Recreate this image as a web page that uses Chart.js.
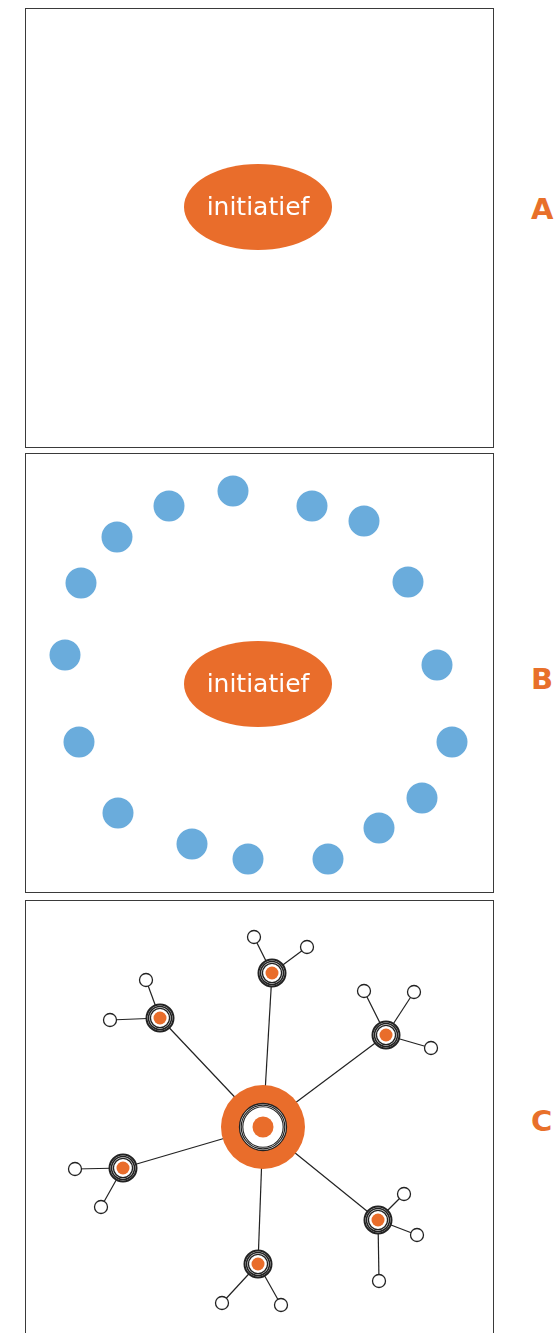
<!DOCTYPE html>
<html>
<head>
<meta charset="utf-8">
<script src="https://cdn.jsdelivr.net/npm/chart.js@4"></script>
<style>
  body { margin: 0; background: #fff; width: 555px; height: 1333px; overflow: hidden; position: relative; font-family: "DejaVu Sans", sans-serif; }
  .panel { position: absolute; left: 25px; width: 467px; height: 438px; border: 1px solid #3a3a3a; }
  .panel canvas { display: block; }
  .letter { position: absolute; left: 531px; color: #e8702a; font-weight: bold; font-size: 29px; line-height: 29px; }
</style>
</head>
<body>
<div class="panel" style="top:8px"><canvas id="chartA"></canvas></div>
<div class="panel" style="top:453px"><canvas id="chartB"></canvas></div>
<div class="panel" style="top:900px"><canvas id="chartC"></canvas></div>
<div class="letter" style="top:195px">A</div>
<div class="letter" style="top:665px">B</div>
<div class="letter" style="top:1107px">C</div>

<script>
// panel coordinates, 1 unit = 1 px inside each box
var panelLabels = ["A", "B", "C"];
var initiativeLabel = "initiatief";
var initiativeX = 233;
var initiativeY = [199, 231];

// B: the people around the initiative
var peopleX = [208, 144, 287, 339, 92, 56, 383, 40, 412, 54, 427, 93, 397, 354, 167, 223, 303];
var peopleY = [38, 53, 53, 68, 84, 130, 129, 202, 212, 289, 289, 360, 345, 375, 391, 406, 406];

// C: network
var hubX = 238, hubY = 227;
var satX = [247, 135, 361, 98, 353, 233];
var satY = [73, 118, 135, 268, 320, 364];
var leafX = [229, 282, 121, 85, 339, 389, 406, 50, 76, 379, 392, 354, 197, 256];
var leafY = [37, 47, 80, 120, 91, 92, 148, 269, 307, 294, 335, 381, 403, 405];
var leafOf = [0, 0, 1, 1, 2, 2, 2, 3, 3, 4, 4, 4, 5, 5];

var orange = "#e96d2b";
var blue = "#6aacdc";
var ink = "#222";

function ellipseImage() {
  var c = document.createElement("canvas");
  c.width = 150; c.height = 88;
  var ctx = c.getContext("2d");
  ctx.fillStyle = orange;
  ctx.beginPath();
  ctx.ellipse(75, 44, 74, 43, 0, 0, Math.PI * 2);
  ctx.fill();
  ctx.fillStyle = "#fff";
  ctx.font = "25px 'DejaVu Sans'";
  ctx.textAlign = "center";
  ctx.textBaseline = "middle";
  ctx.fillText(initiativeLabel, 75, 45);
  return c;
}

function pts(xs, ys) {
  return xs.map(function (x, i) { return { x: x, y: ys[i] }; });
}

function dots(data, r, fill, stroke, bw) {
  return {
    data: data,
    pointRadius: r,
    pointBackgroundColor: fill,
    pointBorderColor: stroke || fill,
    pointBorderWidth: bw || 0,
    showLine: false
  };
}

function edge(a, b) {
  return { data: [a, b], showLine: true, borderColor: ink, borderWidth: 1.2, pointRadius: 0 };
}

function makeChart(id, datasets) {
  // first dataset sits at the bottom
  datasets.forEach(function (d, i) { d.order = datasets.length - i; d.clip = false; });
  return new Chart(id, {
    type: "scatter",
    data: { datasets: datasets },
    options: {
      responsive: true,
      maintainAspectRatio: false,
      animation: false,
      events: [],
      layout: { padding: 0, autoPadding: false },
      plugins: { legend: { display: false }, tooltip: { enabled: false } },
      scales: {
        x: { type: "linear", min: 1, max: 468, display: false },
        y: { type: "linear", min: 1, max: 439, reverse: true, display: false }
      }
    }
  });
}

var initiative = ellipseImage();

makeChart("chartA", [
  { data: [{ x: initiativeX, y: initiativeY[0] }], pointStyle: initiative, pointRadius: 10 }
]);

makeChart("chartB", [
  dots(pts(peopleX, peopleY), 15.5, blue),
  { data: [{ x: initiativeX, y: initiativeY[1] }], pointStyle: initiative, pointRadius: 10 }
]);

var hub = { x: hubX, y: hubY };
var sats = pts(satX, satY);
var leaves = pts(leafX, leafY);
var setsC = [];
sats.forEach(function (s) { setsC.push(edge(hub, s)); });
leaves.forEach(function (l, i) { setsC.push(edge(sats[leafOf[i]], l)); });
setsC.push(dots(leaves, 6.5, "#fff", ink, 1.3));
// hub
setsC.push(dots([hub], 42, orange));
setsC.push(dots([hub], 23.5, "#fff", ink, 1.3));
setsC.push(dots([hub], 21.8, "rgba(0,0,0,0)", ink, 1.2));
setsC.push(dots([hub], 20.2, "rgba(0,0,0,0)", ink, 1.1));
setsC.push(dots([hub], 10.5, orange));
// satellites
setsC.push(dots(sats, 13.5, "#fff", ink, 2));
setsC.push(dots(sats, 11.5, "rgba(0,0,0,0)", ink, 1.6));
setsC.push(dots(sats, 9.6, "rgba(0,0,0,0)", ink, 1.4));
setsC.push(dots(sats, 6.5, orange));
makeChart("chartC", setsC);
</script>
</body>
</html>
